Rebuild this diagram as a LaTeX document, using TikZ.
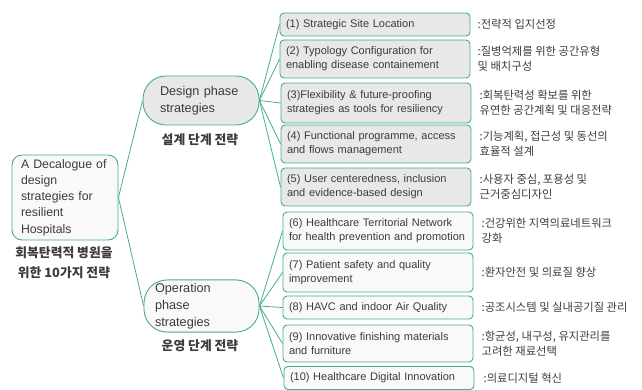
\documentclass[tikz,border=0pt]{standalone}
\usepackage{fontspec}
\setmainfont{Liberation Sans}
\newfontfamily\kr{Noto Sans CJK KR}
\usepackage{xcolor}
\definecolor{teal}{RGB}{70,172,140}
\definecolor{boxgray}{RGB}{232,232,232}
\definecolor{boxwhite}{RGB}{249,249,249}
\definecolor{ink}{RGB}{60,60,60}

\begin{document}
\begin{tikzpicture}[x=1pt,y=-1pt]

		\tikzset{leaf/.style = {draw=teal,line width=0.9pt,rounded corners=4pt,text=ink,font=\fontsize{11}{14}\selectfont,text width=178pt,inner xsep=6pt,inner ysep=2pt,align=left}}
		\tikzset{phase/.style = {draw=teal,line width=0.9pt,rounded corners=23pt,text=ink,font=\fontsize{12.7}{16.8}\selectfont,align=left,minimum height=50pt}}
		\tikzset{krnote/.style = {anchor=west,text=ink,font=\kr\fontsize{11.3}{15}\selectfont,align=left,inner sep=0pt}}
		\tikzset{krtitle/.style = {text=ink,font=\kr\bfseries\fontsize{12.8}{20}\selectfont,align=center,inner sep=0pt}}
		\tikzset{edge/.style = {draw=teal,line width=0.8pt}}

		\useasboundingbox (0,0) rectangle (642,390);

		% root
		\node[draw=teal,line width=0.9pt,rounded corners=10pt,fill=boxwhite,text=ink,font=\fontsize{12.3}{16.2}\selectfont,text width=94pt,inner xsep=6pt,align=left,minimum height=85pt] (root) at (65,197.5) {\hspace*{3pt}A Decalogue of\\\hspace*{3pt}design\\\hspace*{3pt}strategies for\\\hspace*{3pt}resilient\\\hspace*{3pt}Hospitals};
		\node[krtitle] (rootkr) at (64,263) {회복탄력적 병원을\\위한 10가지 전략};

		% phases
		\node[phase,fill=boxgray,minimum height=49pt,text width=82pt,inner xsep=17pt] (design) at (201,100.5) {Design phase\\strategies};
		\node[krtitle] (designkr) at (200,140) {설계 단계 전략};
		\node[phase,fill=boxwhite,minimum height=52pt,text width=93pt,inner xsep=11pt] (oper) at (201.5,306) {Operation\\phase\\strategies};
		\node[krtitle] (operkr) at (200,346) {운영 단계 전략};

		% design leaves
		\node[leaf,fill=boxgray,minimum height=23pt] (s1) at (375,24.5) {(1) Strategic Site Location};
		\node[leaf,fill=boxgray,minimum height=38pt] (s2) at (375,59) {(2) Typology Configuration for\\enabling disease containement};
		\node[leaf,fill=boxgray,minimum height=40pt] (s3) at (376,103) {(3)Flexibility \& future-proofing\\strategies as tools for resiliency};
		\node[leaf,fill=boxgray,minimum height=38pt] (s4) at (376,144) {(4) Functional programme, access\\and flows management};
		\node[leaf,fill=boxgray,minimum height=38pt] (s5) at (376,187) {(5) User centeredness, inclusion\\and evidence-based design};

		% operation leaves
		\node[leaf,fill=boxwhite,minimum height=38pt] (s6) at (378,231) {(6) Healthcare Territorial Network\\for health prevention and promotion};
		\node[leaf,fill=boxwhite,minimum height=39pt] (s7) at (378,272.5) {(7) Patient safety and quality\\improvement};
		\node[leaf,fill=boxwhite,minimum height=23pt] (s8) at (378,307.5) {(8) HAVC and indoor Air Quality};
		\node[leaf,fill=boxwhite,minimum height=37pt] (s9) at (378,343.5) {(9) Innovative finishing materials\\and furniture};
		\node[leaf,fill=boxwhite,minimum height=23pt] (s10) at (379,378) {(10) Healthcare Digital Innovation};

		% korean notes
		\node[krnote] (k1) at ([xshift=7pt]s1.east) {:전략적 입지선정};
		\node[krnote] (k2) at ([xshift=7pt]s2.east) {:질병억제를 위한 공간유형\\및 배치구성};
		\node[krnote] (k3) at ([xshift=8pt]s3.east) {:회복탄력성 확보를 위한\\유연한 공간계획 및 대응전략};
		\node[krnote] (k4) at ([xshift=8pt]s4.east) {:기능계획, 접근성 및 동선의\\효율적 설계};
		\node[krnote] (k5) at ([xshift=8pt]s5.east) {:사용자 중심, 포용성 및\\근거중심디자인};
		\node[krnote] (k6) at ([xshift=8pt]s6.east) {:건강위한 지역의료네트워크\\강화};
		\node[krnote] (k7) at ([xshift=8pt]s7.east) {:환자안전 및 의료질 향상};
		\node[krnote] (k8) at ([xshift=8pt]s8.east) {:공조시스템 및 실내공기질 관리};
		\node[krnote] (k9) at ([xshift=8pt]s9.east) {:항균성, 내구성, 유지관리를\\고려한 재료선택};
		\node[krnote] (k10) at ([xshift=9pt]s10.east) {:의료디지털 혁신};

		% connectors
		\draw[edge] (root.east) -- (design.west);
		\draw[edge] (root.east) -- (oper.west);
		\foreach \s in {s1,s2,s3,s4,s5}
		\draw[edge] (design.east) -- (\s.west);
		\foreach \s in {s6,s7,s8,s9,s10}
		\draw[edge] (oper.east) -- (\s.west);

\end{tikzpicture}
\end{document}
